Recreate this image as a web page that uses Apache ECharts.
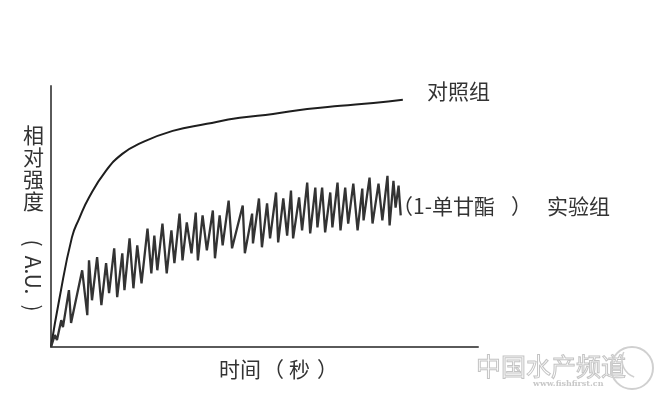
<!DOCTYPE html>
<html>
<head>
<meta charset="utf-8">
<script src="https://cdn.jsdelivr.net/npm/echarts@6/dist/echarts.min.js"></script>
<style>
  html, body { margin: 0; padding: 0; background: #fff; }
  #chart { width: 660px; height: 399px; }
</style>
</head>
<body>
<div id="chart"></div>
<script>
// Relative intensity over time (arbitrary units, no tick scale shown)
const controlTime = [0, 1.9, 4.9, 6.6, 8.9, 12.9, 16.7, 20.7, 28.5, 36.5, 44.2, 52, 60, 67.8, 75.5, 82.4];
const controlIntensity = [0, 17.9, 42, 49.2, 57.3, 67.6, 74.0, 77.9, 82.8, 85.5, 87.8, 89.3, 91.2, 92.4, 93.5, 94.7];

const expTime = [
  0, 0.9, 1.4, 2.4, 2.8, 4.2, 4.7, 7.3, 8.5, 8.9,
  9.6, 10.8, 11.8, 12.9, 13.6, 14.8, 15.5, 16.7, 17.2, 18.4,
  19.3, 20.2, 21.2, 22.6, 23.5, 24.2, 24.9, 26.1, 27.1, 28.2,
  28.9, 30.1, 30.8, 31.8, 32.9, 33.9, 34.4, 35.5, 36.5, 37.9,
  38.4, 39.5, 40.2, 41.6, 42.4, 44.9, 45.4, 47.1, 47.3, 48.7,
  49.4, 50.6, 51.3, 52.7, 53.2, 54.4, 55.3, 56.2, 56.7, 58.1,
  58.8, 60.0, 60.7, 61.9, 62.4, 63.5, 64.2, 65.4, 65.9, 67.1,
  67.8, 68.9, 69.6, 70.8, 71.8, 72.9, 73.2, 74.6, 75.3, 76.7,
  77.6, 78.8, 79.3, 80.2, 80.7, 81.4, 81.9
];
const expIntensity = [
  0, 4.6, 2.7, 10.3, 7.6, 21.8, 9.2, 29.4, 12.2, 33.2,
  17.9, 34.4, 16.0, 32.1, 20.6, 37.8, 19.1, 35.9, 21.8, 41.6,
  22.5, 38.9, 24.4, 45.4, 28.2, 42.7, 29.4, 47.3, 28.2, 44.7,
  32.1, 51.1, 33.2, 47.7, 35.9, 51.5, 33.2, 50.4, 37.0, 52.3,
  34.0, 50.4, 38.9, 56.1, 37.8, 54.2, 35.9, 51.1, 39.7, 56.9,
  38.2, 55.0, 41.6, 59.2, 40.1, 56.9, 42.7, 59.9, 41.6, 57.3,
  44.7, 63.0, 43.5, 61.1, 45.8, 61.1, 43.9, 59.2, 45.8, 63.0,
  44.7, 61.1, 47.3, 62.6, 44.7, 60.7, 48.5, 64.9, 47.3, 62.6,
  48.5, 65.6, 46.6, 63.7, 53.4, 61.8, 50.4
];

const controlLabel = '对照组';
const expLabel = ['（1-单甘酯', '）', '实验组'];
const xTitle = ['时间', '（', '秒', '）'];
const yTitleChars = '相\n对\n强\n度';
const yTitleUnit = ['(', 'A.U.', ')'];

const chart = echarts.init(document.getElementById('chart'), null, { renderer: 'canvas' });

const axisCommon = {
  type: 'value',
  min: 0,
  max: 100,
  axisLine: { show: true, onZero: false, lineStyle: { color: '#5a5a5a', width: 2 } },
  axisTick: { show: false },
  axisLabel: { show: false },
  splitLine: { show: false }
};

const textFont = '"Noto Sans CJK SC", "Noto Sans", sans-serif';
const txt = (text, x, y, size) => ({
  type: 'text',
  x: x,
  y: y,
  style: {
    text: text,
    fontSize: size,
    fontFamily: textFont,
    fill: '#333',
    textVerticalAlign: 'middle'
  }
});
// text turned a quarter clockwise, centred on (x, y)
const vtxt = (text, x, y, size) => ({
  type: 'text',
  x: x,
  y: y,
  rotation: -Math.PI / 2,
  style: {
    text: text,
    fontSize: size,
    fontFamily: textFont,
    fill: '#333',
    textAlign: 'center',
    textVerticalAlign: 'middle'
  }
});

chart.setOption({
  animation: false,
  grid: { left: 51, right: 182, top: 86, bottom: 52 },
  xAxis: Object.assign({}, axisCommon),
  yAxis: Object.assign({}, axisCommon),
  series: [
    {
      name: controlLabel,
      type: 'line',
      data: controlTime.map((t, i) => [t, controlIntensity[i]]),
      smooth: 0.5,
      showSymbol: false,
      lineStyle: { color: '#1e1e1e', width: 2 }
    },
    {
      name: '实验组',
      type: 'line',
      data: expTime.map((t, i) => [t, expIntensity[i]]),
      showSymbol: false,
      lineStyle: { color: '#333', width: 2.3 }
    }
  ],
  graphic: [
    txt(controlLabel, 427, 91, 21),
    txt(expLabel[0], 392, 206, 21),
    txt(expLabel[1], 511, 206, 21),
    txt(expLabel[2], 547, 206, 21),
    txt(xTitle[0], 219, 369, 21),
    txt(xTitle[1], 263, 369, 21),
    txt(xTitle[2], 289, 369, 21),
    txt(xTitle[3], 317, 369, 21),
    {
      type: 'text',
      x: 23,
      y: 124,
      style: {
        text: yTitleChars,
        fontSize: 21,
        lineHeight: 22,
        fontFamily: textFont,
        fill: '#333'
      }
    },
    vtxt(yTitleUnit[0], 33, 243, 21),
    vtxt(yTitleUnit[1], 33, 275, 21),
    vtxt(yTitleUnit[2], 33, 308, 21),
    // site watermark in the lower right corner
    {
      type: 'text',
      x: 476,
      y: 366,
      style: {
        text: '中国水产频道',
        fontSize: 25,
        fontFamily: textFont,
        fill: 'rgba(255,255,255,0)',
        stroke: '#c4c4c4',
        lineWidth: 1,
        textVerticalAlign: 'middle'
      }
    },
    {
      type: 'text',
      x: 533,
      y: 384,
      style: {
        text: 'www.fishfirst.cn',
        fontSize: 8,
        fontFamily: '"DejaVu Serif", serif',
        fontWeight: 'bold',
        fill: '#c8c8c8',
        textVerticalAlign: 'middle'
      }
    },
    {
      type: 'circle',
      shape: { cx: 632, cy: 368, r: 21 },
      style: { fill: 'none', stroke: '#d0d0d0', lineWidth: 2 }
    },
    {
      type: 'arc',
      shape: { cx: 640, cy: 360, r: 18, startAngle: 1.9, endAngle: 3.6 },
      style: { fill: 'none', stroke: '#d0d0d0', lineWidth: 1.5 }
    }
  ]
});
</script>
</body>
</html>
